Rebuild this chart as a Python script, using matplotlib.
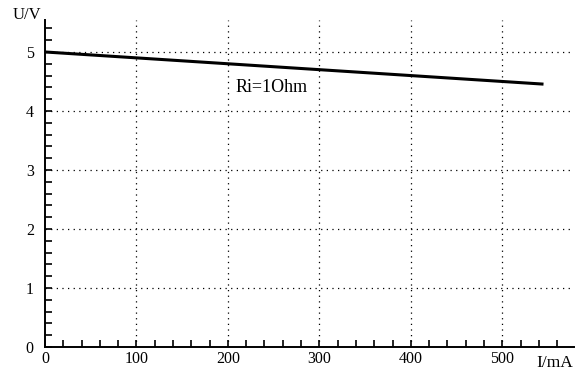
import matplotlib
matplotlib.use('Agg')
from matplotlib import pyplot as plt
from matplotlib.ticker import MultipleLocator

plt.rcParams['font.family'] = ['Liberation Serif', 'DejaVu Serif']

# values
current_ma = [0, 100, 200, 300, 400, 500, 545]
voltage_v = [5.0, 4.9, 4.8, 4.7, 4.6, 4.5, 4.455]
x_ticks = [0, 100, 200, 300, 400, 500]
y_ticks = [0, 1, 2, 3, 4, 5]
label = 'Ri=1Ohm'

fig = plt.figure(figsize=(5.76, 3.72), dpi=100)
ax = fig.add_axes([0.078, 0.067, 0.918, 0.879])

ax.plot(current_ma, voltage_v, color='black', lw=2.2, solid_capstyle='butt')

ax.set_xlim(0, 578)
ax.set_ylim(0, 5.54)
ax.spines['top'].set_visible(False)
ax.spines['right'].set_visible(False)
ax.spines['left'].set_linewidth(1.4)
ax.spines['bottom'].set_linewidth(1.4)

ax.xaxis.set_major_locator(MultipleLocator(100))
ax.xaxis.set_minor_locator(MultipleLocator(20))
ax.yaxis.set_major_locator(MultipleLocator(1))
ax.yaxis.set_minor_locator(MultipleLocator(0.2))
ax.set_xticks(x_ticks)
ax.set_yticks(y_ticks)
ax.tick_params(which='both', direction='in', length=5, width=1.2, labelsize=11.5)
ax.tick_params(axis='x', pad=3)
ax.tick_params(axis='y', pad=8)

for v in y_ticks[1:]:
    ax.axhline(v, color='black', lw=0.9, ls=(0, (1, 3.5)))
for v in x_ticks[1:]:
    ax.axvline(v, color='black', lw=0.9, ls=(0, (1, 3.5)))

ax.text(208, 4.40, label, fontsize=13, va='center')
ax.text(-0.062, 1.015, 'U/V', transform=ax.transAxes, fontsize=12, va='center')
ax.text(0.998, -0.05, 'I/mA', transform=ax.transAxes, fontsize=12.5,
        ha='right', va='center')

fig.savefig('out.png', dpi=100)
